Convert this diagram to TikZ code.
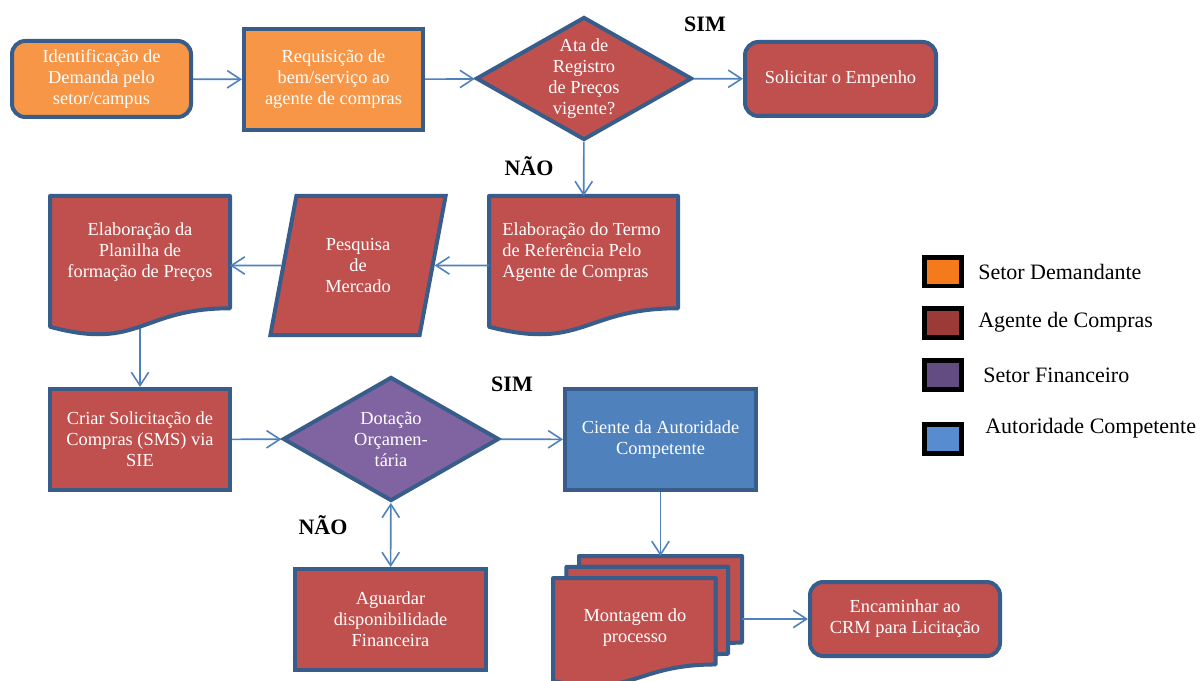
\documentclass[tikz,border=0pt]{standalone}
\usepackage{fontspec}
\setmainfont{Liberation Serif}
\usetikzlibrary{shapes.geometric,arrows.meta,backgrounds}
\definecolor{bordblue}{HTML}{385D8A}
\definecolor{arrblue}{HTML}{4F81BD}
\definecolor{orfill}{HTML}{F79646}
\definecolor{rdfill}{HTML}{C0504D}
\definecolor{pufill}{HTML}{8064A2}
\definecolor{blfill}{HTML}{4F81BD}
\definecolor{legor}{HTML}{F47A1B}
\definecolor{legrd}{HTML}{9B3A37}
\definecolor{legpu}{HTML}{624C82}
\definecolor{legbl}{HTML}{578CD0}
\begin{document}
\begin{tikzpicture}[x=0.75pt,y=-0.75pt,
  txt/.style={text=white, align=center, font=\fontsize{13.8}{15.8}\selectfont},
  shp/.style={draw=bordblue, line width=3pt, inner sep=2pt},
  rbox/.style={shp, rectangle, txt},
  rrbox/.style={shp, rectangle, rounded corners=10pt, txt},
  dia/.style={shp, diamond, inner sep=0pt},
  anchorbox/.style={rectangle, draw=none, inner sep=0pt, outer sep=0pt},
  docline/.style={draw=bordblue, line width=3pt, line join=round, fill=rdfill},
  arr/.style={draw=arrblue, line width=1.2pt, -{Straight Barb[length=10pt,width=13pt]}},
  darr/.style={draw=arrblue, line width=1.2pt, {Straight Barb[length=10pt,width=13pt]}-{Straight Barb[length=10pt,width=13pt]}},
  yn/.style={font=\fontsize{16.5}{19}\selectfont\bfseries, text=black},
  legbox/.style={draw=black, line width=3.5pt, minimum width=28pt, minimum height=21.5pt, inner sep=0pt},
  legtxt/.style={font=\fontsize{16.5}{19}\selectfont, anchor=west, inner sep=0pt}
]
\useasboundingbox (0,0) rectangle (1203,681);

% main nodes
\node[rrbox, fill=orfill, minimum width=134.25pt, minimum height=57pt] (ident) at (101.5,79) {Identificação de\\Demanda pelo\\setor/campus};
\node[rbox, fill=orfill, minimum width=134.25pt, minimum height=75.75pt] (req) at (333.5,79.5) {Requisição de\\bem/serviço ao\\agente de compras};
\node[dia, fill=rdfill, minimum width=162pt, minimum height=92.25pt,
      label={[txt]center:Ata de\\Registro\\de Preços\\vigente?}] (ata) at (584,78.5) {};
\node[rrbox, fill=rdfill, minimum width=143.25pt, minimum height=55.5pt] (emp) at (840.5,79) {Solicitar o Empenho};

\node[anchorbox, minimum width=141.75pt, minimum height=105pt,
      label={[txt, align=left, yshift=10.5pt, xshift=-1.5pt]center:Elaboração do Termo\\de Referência Pelo\\Agente de Compras}] (elab) at (583.5,266) {};
\node[shp, trapezium, trapezium left angle=76, trapezium right angle=104, trapezium stretches=true,
      minimum width=132pt, minimum height=104.25pt, fill=rdfill, txt] (pesq) at (358,265.5) {Pesquisa\\de\\Mercado};
\node[anchorbox, minimum width=135pt, minimum height=105pt,
      label={[txt, yshift=10.5pt]center:Elaboração da\\Planilha de\\formação de Preços}] (plan) at (140,266) {};

\node[rbox, fill=rdfill, minimum width=135pt, minimum height=75.75pt] (criar) at (140,439.5) {Criar Solicitação de\\Compras (SMS) via\\SIE};
\node[dia, fill=pufill, minimum width=162pt, minimum height=93pt,
      label={[txt]center:Dotação\\Orçamen-\\tária}] (dot) at (391,439) {};
\node[rbox, fill=blfill, minimum width=143.25pt, minimum height=75.75pt] (ciente) at (660.5,439.5) {Ciente da Autoridade\\Competente};
\node[rbox, fill=rdfill, minimum width=143.25pt, minimum height=75.75pt] (aguar) at (390.5,619.5) {Aguardar\\disponibilidade\\Financeira};
\node[anchorbox, minimum width=141.75pt, minimum height=97.5pt,
      label={[txt, xshift=-9.4pt, yshift=-5.25pt]center:Montagem do\\processo}] (mont) at (647.5,621) {};
\node[rrbox, fill=rdfill, minimum width=142.5pt, minimum height=55.5pt] (enc) at (905,619) {Encaminhar ao\\CRM para Licitação};

% yes / no labels
\node[yn] (sim1) at (705,24) {SIM};
\node[yn] (nao1) at (529,166) {NÃO};
\node[yn] (sim2) at (512,384) {SIM};
\node[yn] (nao2) at (323,525) {NÃO};

% legend
\node[legbox, fill=legor] (l1) at (943,271.5) {};
\node[legbox, fill=legrd] (l2) at (943,323) {};
\node[legbox, fill=legpu] (l3) at (943,375) {};
\node[legbox, fill=legbl] (l4) at (943,439) {};
\node[legtxt] (t1) at (978,272) {Setor Demandante};
\node[legtxt] (t2) at (978,322) {Agente de Compras};
\node[legtxt] (t3) at (983,375) {Setor Financeiro};
\node[legtxt] (t4) at (985,428) {Autoridade Competente};

% custom shapes on background
\begin{pgfonlayer}{background}
\draw[arr] (plan.center) -- (criar);
\begin{scope}[shift={(plan.north west)}, x=135pt, y=-105pt]
  \filldraw[docline] (0,0) -- (1,0) -- (1,0.802) .. controls (0.5,0.802) and (0.5,1.108) .. (0,0.934) -- cycle;
\end{scope}
\begin{scope}[shift={(elab.north west)}, x=141.75pt, y=-105pt]
  \filldraw[docline] (0,0) -- (1,0) -- (1,0.802) .. controls (0.5,0.802) and (0.5,1.108) .. (0,0.934) -- cycle;
\end{scope}
\begin{scope}[shift={(mont.north west)}, x=141.75pt, y=-97.5pt]
  \filldraw[docline] (0.1376,0.084) -- (0.1376,0) -- (1,0) -- (1,0.6663) .. controls (0.963,0.6663) and (0.926,0.6698) .. (0.926,0.6698) -- (0.926,0.084) -- cycle;
  \filldraw[docline] (0.0709,0.170) -- (0.0709,0.084) -- (0.926,0.084) -- (0.926,0.7524) .. controls (0.8934,0.7524) and (0.8609,0.757) .. (0.8609,0.757) -- (0.8609,0.170) -- cycle;
  \filldraw[docline] (0,0.9621) .. controls (0.4305,1.0899) and (0.4305,0.8344) .. (0.8609,0.8344) -- (0.8609,0.170) -- (0,0.170) -- cycle;
\end{scope}
\end{pgfonlayer}

% connectors
\draw[arr] (ident) -- (req);
\draw[arr] (req) -- (ata);
\draw[arr] (ata) -- (emp);
\draw[arr] (ata) -- (elab);
\draw[arr] (elab.west |- pesq) -- (pesq);
\draw[arr] (pesq) -- (plan.east |- pesq);
\draw[arr] (criar) -- (dot);
\draw[arr] (dot) -- (ciente);
\draw[darr] (dot) -- (aguar);
\draw[arr] (ciente.south) -- (ciente.south |- mont.north);
\draw[arr] (mont.east |- enc) -- (enc);
\end{tikzpicture}
\end{document}
